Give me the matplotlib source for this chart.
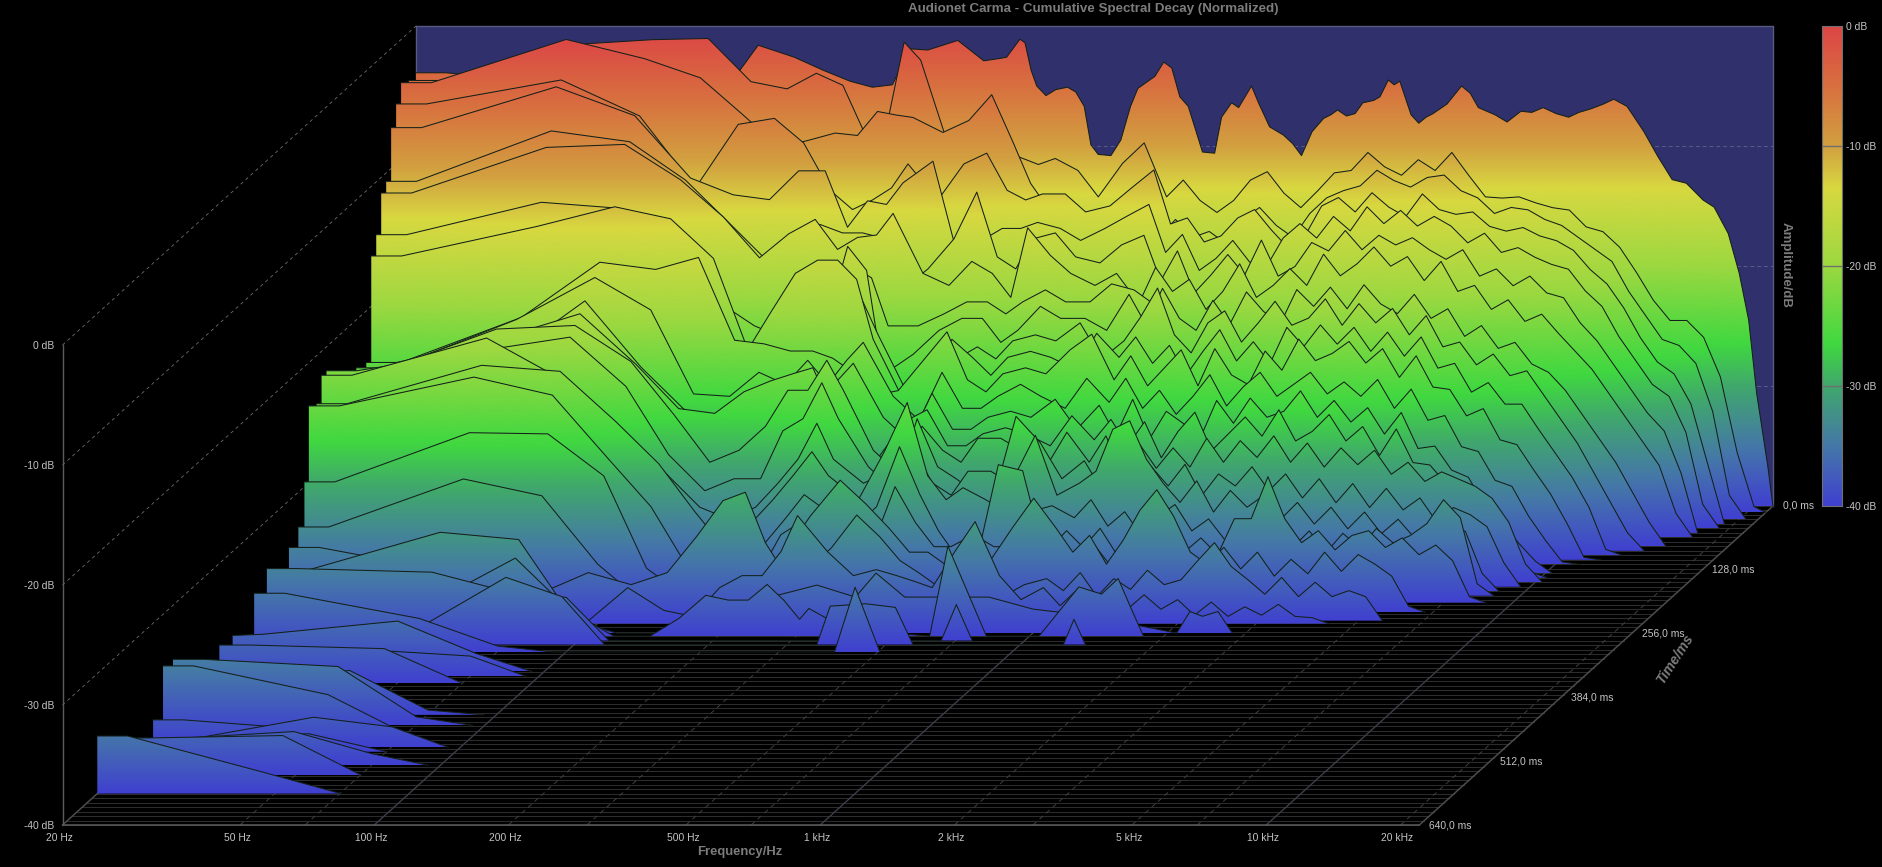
import numpy as np
import matplotlib
matplotlib.use("Agg")
import matplotlib.pyplot as plt
from matplotlib.colors import LinearSegmentedColormap
from matplotlib.patches import Polygon

plt.rcParams['font.family'] = ['Liberation Sans', 'DejaVu Sans']

# shared frequency columns: 10 low bins, 13 mid, 37 high
f_grid = [20, 23.4, 46.9, 70.3, 93.8, 117, 141, 164, 188, 211,
          234, 258, 281, 328, 375, 422, 469, 516, 563, 633, 703, 797, 891,
          1000, 1090, 1189, 1297, 1414, 1542, 1682, 1834, 2000, 2181, 2378, 2594, 2828, 3084, 3364, 3668, 4000,
          4362, 4757, 5187, 5657, 6169, 6727, 7336, 8000, 8724, 9514, 10375, 11314, 12338, 13454, 14672, 16000,
          17448, 19027, 20749, 22050]

# 0 ms slice, read finer because it is the outline against the back wall
t000_f = [20, 23.4, 46.9, 70.3, 93.8, 117, 141, 164, 188, 211, 234, 256, 281, 328, 375, 408, 422, 452, 464, 479, 493, 517,
          544, 578, 603, 630, 652, 677, 723, 761, 800, 831, 907, 950, 990, 1032, 1078, 1160, 1235, 1280, 1348, 1398,
          1494, 1549, 1640, 1763, 1847, 1934, 2043, 2168, 2250, 2330, 2440, 2550, 2655, 2808, 2900, 3028, 3120, 3213,
          3405, 3543, 3680, 3815, 4100, 4419, 4620, 4820, 5253, 5591, 6006, 6350, 6733, 7200, 7680, 8100, 8622, 9200,
          9697, 10384, 11325, 12186, 13107, 14100, 15370, 16280, 17510, 18530, 19456, 20275, 21500, 22050]
t000_db = [-3.9, -3.9, -5, -5.5, -6.5, -1.6, -2.6, -3.7, -4.6, -5.1, -4.9, -1.9, -2.0, -1.2, -2.9, -2.7, -2.6, -1.1, -1.4, -3.7, -5, -5.8,
           -5.3, -5.1, -5.5, -6.7, -9.9, -10.7, -10.8, -9.5, -6.7, -5.2, -4.2, -3, -3.5, -5.9, -6.7, -10.5, -10.6, -7.6, -6.4, -6.8,
           -5, -6.4, -8.4, -9.1, -9.8, -10.8, -8.8, -7.7, -7.4, -7, -7.5, -7.3, -6.4, -6.2, -5.9, -4.5, -4.9, -4.6,
           -7.4, -8.1, -7.6, -7.3, -6.5, -5, -5.6, -6.8, -7.4, -8, -7.1, -7.2, -6.8, -7.3, -7.6, -7.2, -6.9, -6.5,
           -6.1, -6.7, -8.8, -10.9, -12.8, -13.1, -14.5, -15.1, -17.3, -20.6, -24.5, -30.6, -36.8, -40]

s013 = [-4, -4, -1, -0.6, -0.5, -4.1, -4.7, -3.4, -4.4, -8.5,
        -8.4, -0.8, -2.3, -10, -16, -11, -10.4, -11, -10.5, -11.5, -13.7, -10.9, -9.2,
        -13.7, -12.3, -14, -15, -14, -12.3, -11.6, -13.4, -14.6, -13.2, -11.7, -11.5, -10, -11.2, -11.9, -10.6, -11.5,
        -10, -11.9, -13.7, -13.8, -13.7, -14.2, -14.6, -14.8, -16.2, -16.6, -17.9, -20, -22.3, -24, -24, -25.4,
        -28.7, -35, -39.5, -40]
s027 = [-3.6, -3.6, 0, -1.6, -3.2, -6.3, -9, -8.4, -7.8, -8,
        -6, -6.3, -6.5, -7.75, -6.75, -4.6, -8.4, -12, -14, -14.5, -16.5, -15, -14,
        -16.5, -15, -16.5, -16, -17, -15, -14, -15.5, -16.5, -14.5, -13.2, -12.6, -12.2, -10.9, -11.75, -12.3, -11.5,
        -11.3, -12.6, -13.2, -14.5, -14, -14.2, -15, -15.5, -16.5, -17.5, -18.5, -21, -23, -25, -25.5, -27,
        -31, -38, -40, -40]
s036 = [-5, -5, -3, -6, -12, -6.7, -6.2, -8.25, -12.2, -13.8,
        -13, -12, -10, -13, -10, -9.1, -12.2, -13, -12.5, -12.5, -14, -13.5, -12,
        -10.5, -15, -14.5, -16.5, -16, -14.5, -13.8, -15.5, -17, -16, -13.5, -12.8, -14, -12.4, -13.6, -14.4, -12.5,
        -13.8, -14.2, -14, -15.2, -15.6, -15.3, -16, -16.4, -17.2, -18.8, -20, -22, -24.5, -26.5, -27.5, -30,
        -35, -40]
s045 = [-6.6, -6.6, -3.2, -5.6, -10.8, -12.2, -12.6, -10.2, -10.2, -14.9,
        -12.7, -13, -11.2, -9.4, -17.7, -16, -15, -15, -14.5, -15, -16, -15, -14,
        -13, -17, -15.5, -18.5, -17.5, -16, -17.8, -18.2, -15.8, -14.6, -15.8, -14, -15.2, -13.2, -14.6, -13.5, -14.8,
        -14, -14.8, -16.2, -15.4, -17, -16.6, -17.4, -18, -18.4, -20.2, -21.5, -24, -26, -28, -29, -32,
        -38, -40]
s054 = [-10.7, -10.7, -6.5, -7.4, -10.6, -14.1, -17.1, -15, -14.3, -15,
        -15, -15.4, -20, -18, -15.5, -11.6, -17, -18, -15.5, -15, -17, -17.5, -16,
        -15.2, -19, -16.5, -20, -18.5, -16.8, -18.5, -15.6, -18.6, -17.8, -15.8, -16.5, -14.8, -16.4, -15.2, -16, -15.4,
        -16.4, -17.2, -16.4, -18.6, -18, -19.4, -18.6, -20, -20.4, -22.5, -24, -26, -28, -30, -31.5, -35,
        -40]
s063 = [-11.3, -11.3, -7.5, -7.25, -10.2, -13.3, -16.7, -14.7, -13.5, -16,
        -15, -14.8, -13, -18, -19, -17, -18, -20, -14.2, -16.5, -18, -19, -18,
        -20.5, -17.5, -19.5, -18.5, -21, -19.5, -17.2, -20, -19, -17.6, -19, -16.4, -18.2, -17.2, -15.8, -17.4, -16.6,
        -18.6, -17, -19.5, -19, -21, -20.2, -22, -21.4, -23, -24.5, -26, -28, -30, -32, -34, -38,
        -40]
s072 = [-14.4, -14.4, -11.7, -12.2, -17, -20, -22, -23, -20, -18,
        -17, -18, -22, -22, -21, -20, -20, -21, -20, -19, -20, -20, -18.5,
        -19, -20, -24, -30, -36, -40]
s081 = [-15.8, -15.8, -13.35, -11.7, -12.7, -16, -24, -24, -22, -21,
        -15, -17, -25.7, -24, -22, -21, -21, -23, -22, -20, -21, -21, -22,
        -19, -21.5, -18.5, -21, -22, -19.5, -21.5, -18.8, -20.4, -21.5, -18.6, -20, -18.4, -20.2, -18.2, -19.8, -20.6,
        -19, -21, -20.2, -22.5, -21.6, -23.5, -23, -24.8, -25.5, -27, -29, -31, -33, -35.5, -38, -40]
s090 = [-24.3, -24.3, -22, -20, -22, -21, -23, -24, -17.5, -17,
        -18, -19, -22, -27, -26, -24, -23, -24, -22.5, -22, -22.5, -21, -24,
        -22.5, -20.5, -18.1, -22, -23.5, -21, -20, -22.6, -21, -19.2, -21.2, -20.6, -19, -21.2, -19.4, -21, -19.8,
        -22, -20.4, -23, -22.6, -24.5, -23.6, -25.4, -25, -27, -29, -31, -33.5, -36, -38.5, -40]
s099 = [-27, -27, -21, -19, -19, -20, -24, -20, -16.5, -15.4,
        -15.4, -17, -22, -27, -25, -22, -23.5, -25, -23.5, -23, -23.5, -24.5, -21.5,
        -23.5, -21.8, -24, -22.5, -25, -23, -21.2, -23.8, -22.2, -24, -21, -22.6, -20.8, -22.4, -21, -23, -21.4,
        -23.4, -21.8, -24.4, -24, -26.4, -25.6, -27.4, -27.4, -29.5, -31.5, -33.5, -36, -39.5, -40]
s108 = [-24, -24, -19.8, -15.2, -15.8, -14.8, -21.7, -22, -22.6, -22.6,
        -23.2, -24.3, -26.4, -25.9, -23.3, -21, -25, -26, -24.5, -24, -24.5, -22.5, -21.2,
        -25, -23, -25.5, -24, -22.5, -25.5, -22.4, -24.6, -25.4, -22.6, -24.2, -21.6, -23.4, -22.8, -21.8, -23.6, -22.4,
        -24.8, -23, -25.6, -25.8, -28, -27.4, -30, -30.4, -32.5, -34.5, -37, -39.8, -40]
s117 = [-24, -24, -19.6, -16.1, -18.8, -25.8, -26, -24, -25, -23,
        -25, -23, -21.5, -26, -28, -24, -27, -27, -26, -25, -26, -27, -24.5,
        -26.5, -24.5, -27, -25.5, -27.5, -26, -24.2, -26.8, -25.2, -24, -26, -25, -24, -25.8, -24.8, -26, -24.6,
        -27, -25.4, -28, -27.6, -30.2, -30.6, -33, -33.5, -36, -38, -39.8, -40]
s135 = [-26, -26, -22, -17.3, -22.8, -26.3, -28, -25, -27, -24,
        -26, -24, -22.5, -27, -29, -25, -28, -28, -27, -26.5, -27, -25.5, -28,
        -26, -28.5, -25.5, -28.8, -26.5, -27.5, -28.8, -25.6, -27.5, -25.4, -27, -26.5, -24.8, -27, -25.6, -27.4, -26.2,
        -28.4, -26.6, -29.6, -29.4, -31.4, -32, -34.4, -35.8, -37.5, -39, -40]
s144 = [-25, -25, -20, -18, -22.2, -25.9, -26.3, -24.5, -23.6, -23,
        -22.5, -26, -29, -30, -27, -26, -29, -29, -28, -27.5, -28, -29, -26.5,
        -28.5, -26.8, -29, -27, -30, -27.8, -26.2, -29.4, -28, -26.6, -28.2, -26, -28.6, -27.8, -26.4, -28.6, -27.4,
        -29.8, -27.6, -30.4, -30.6, -32.2, -33.6, -35.4, -37, -38.5, -39.5, -40]
s153 = [-23, -23, -18.9, -18.6, -21.6, -26, -30, -29, -27, -24,
        -24, -21.5, -24, -29, -31, -27, -29, -30, -28, -28, -29, -30.5, -27.5,
        -30, -27.8, -31, -28.5, -30.5, -28.8, -30.4, -28, -30, -28.2, -29.6, -27.8, -30, -28.4, -30.4, -28.8, -30.2,
        -29, -31, -30, -31.6, -30.8, -31.4, -32, -33, -35, -38.5, -40]
s162 = [-22, -22, -20.2, -19.2, -23.3, -29, -32, -31, -31, -27,
        -26, -23, -26, -30, -32, -26, -30, -31, -32, -32, -25.8, -28, -31,
        -29.5, -31.8, -29.4, -32, -30, -31.6, -29.8, -32.4, -30.6, -31.6, -30, -32, -30.6, -32.6, -31, -33, -31.4,
        -33.4, -31.8, -33.6, -32.6, -34.6, -33.4, -34, -35, -38, -40]
s171 = [-22, -22, -18.9, -22.5, -27, -30, -33, -34, -33, -31,
        -29, -26, -29, -31, -30, -28, -31, -32, -30, -30, -31, -27, -32,
        -31, -30, -26.5, -25.8, -29, -31, -32.6, -30.8, -33.4, -31.6, -33, -32, -34, -32.6, -34.4, -33, -34.8,
        -33.4, -35.2, -34, -35.6, -34.2, -34.5, -35, -38.5, -40]
s180 = [-24, -24, -20.8, -21.3, -25.5, -29, -33, -36, -34, -32,
        -30, -28, -30, -32, -28, -23.9, -30, -32, -31, -32, -33, -33, -32.5,
        -33.5, -32, -34.2, -33, -35, -33.4, -32.4, -34.6, -33.6, -35.4, -34, -35.8, -34.2, -36, -34.6, -36.4, -34.8,
        -36, -34.4, -35.6, -35, -34, -32, -33.5, -39, -40]
s194 = [-23.6, -23.6, -21.2, -22.7, -28, -32, -37, -38, -37, -35,
        -33, -31, -32, -34, -32, -27, -31, -34, -36, -36, -28.5, -29, -36,
        -34, -35.4, -33.8, -36, -34.4, -35.6, -33.4, -35.8, -34.6, -36, -33, -33, -29.5, -33, -35, -34, -35.6,
        -34.4, -34, -35.4, -34.6, -36, -35.2, -36.5, -39.5, -40]
s202 = [-29.6, -29.6, -25.5, -25.6, -29.1, -36.8, -39, -39, -38, -37,
        -34, -33, -34, -36, -35, -30, -33, -35, -35, -34, -35, -35, -34,
        -35, -36.4, -35, -36.8, -37, -35.4, -36.6, -35.6, -37.2, -37.5, -36.4, -38.5, -37, -38.8, -40]
s213 = [-32.9, -32.9, -28.9, -30.3, -36, -39, -38, -36, -36, -36,
        -36, -34, -32, -29, -31, -33, -35, -35, -36, -35, -36, -33, -30.5,
        -33, -35, -33.6, -36, -34, -31.5, -29.8, -32, -35, -36, -34.6, -36.4, -35, -37, -35.6, -36.8, -35,
        -36.6, -35.2, -36, -37, -39.5, -40]
s230 = [-33.9, -33.9, -36, -38, -36, -37, -36, -33, -30, -29.3,
        -33.5, -36, -36, -34, -31.2, -33, -35, -36, -37, -36, -37.5, -38, -37,
        -36.5, -37.5, -36, -38, -36.5, -37.4, -35.8, -37, -36.6, -35, -33.5, -35.5, -36.6, -37.8, -36.4, -38, -36.8,
        -38, -37.5, -38, -40]
s236 = [-39, -39, -39, -39.5, -40, -37, -38.9, -39.4, -37, -36,
        -36, -34, -31, -34, -36, -35.5, -36, -36.5, -37, -34, -31.5, -36, -38,
        -37, -38.5, -37.2, -38.8, -38, -38.8, -37.6, -38.8, -38, -39.3, -38.2, -39.4, -38.6, -39.3, -38.4, -39.4, -39.5,
        -40]

# later slices only have a few bins left above the floor
s255_f = [20, 23.4, 46.9, 70.3, 93.8, 117, 164, 211, 258, 328, 400, 445, 516, 633, 797, 1000, 1300, 1800, 2100, 2250, 2400, 2600, 2800]
s255 = [-34.8, -34.8, -31.6, -32.2, -39, -40, -40, -38, -37, -36, -37, -35, -37, -37, -37, -38, -38.5, -39.5, -40, -38.2, -38.6, -38.2, -40]
s261_f = [20, 46.9, 70.3, 93.8, 117, 141, 164, 188, 211, 234, 258, 281, 305, 320, 350, 400, 597, 656, 800, 1050, 1290, 1450, 1580, 1680, 1800]
s261 = [-38, -37, -33.5, -38, -40, -40, -38.5, -36.6, -37, -37, -35.7, -37, -38.6, -37.7, -38.5, -39.5, -40, -32.5, -40, -40, -35.9, -36.5, -35.2, -37.5, -40]
s270_f = [20, 23.4, 46.9, 70.3, 93.8, 117, 650, 703, 763]
s270 = [-34, -34, -34.3, -36, -36.4, -40, -40, -37, -40]
s278_f = [20, 46.9, 70.3, 93.8, 117, 350, 375, 450, 525, 575, 1250, 1320, 1400]
s278 = [-40, -38.2, -34.4, -36, -40, -40, -36.8, -36.6, -36.9, -40, -40, -37.9, -40]
s293_f = [20, 23.4, 46.9, 70.3, 93.8, 400, 445, 506]
s293 = [-35.1, -35.1, -37.2, -39.5, -40, -40, -34.6, -40]
s332_f = [20, 23.4, 46.9, 70.3, 93.8]
s332 = [-37, -36.9, -35.8, -38.5, -40]
s342_f = [20, 46.9, 70.3, 93.8]
s342 = [-39.5, -37.9, -38.3, -40]
s356_f = [20, 23.4, 46.9, 70.3]
s356 = [-36.8, -36.8, -37.1, -40]
s419_f = [20, 23.4, 46.9, 70.3, 93.8]
s419 = [-37.5, -37.5, -36.3, -39.6, -40]
s440_f = [20, 23.4, 46.9, 70.3, 93.8]
s440 = [-34.5, -34.5, -35.1, -39.3, -40]
s458_f = [20, 23.4, 46.9, 70.3]
s458 = [-34.3, -34.3, -36.7, -40]
s476_f = [20, 23.4, 46.9, 70.3]
s476 = [-38.05, -38.05, -38.9, -40]
s484_f = [20, 23.4, 46.9, 70.3, 93.8]
s484 = [-39.5, -39.5, -37.5, -38.3, -40]
s493_f = [20, 46.9, 70.3]
s493 = [-39, -38.5, -40]
s520_f = [20, 46.9, 70.3, 93.8]
s520 = [-38, -37.2, -39.05, -40]
s540_f = [20, 23.4, 46.9, 70.3]
s540 = [-36.9, -36.9, -36.7, -40]
s577_f = [20, 23.4, 46.9, 70.3]
s577 = [-35.2, -35.2, -38.2, -40]

slices = [
    (0, t000_f, t000_db), (13, f_grid, s013), (27, f_grid, s027), (36, f_grid, s036), (45, f_grid, s045),
    (54, f_grid, s054), (63, f_grid, s063), (72, f_grid, s072), (81, f_grid, s081), (90, f_grid, s090),
    (99, f_grid, s099), (108, f_grid, s108), (117, f_grid, s117), (135, f_grid, s135), (144, f_grid, s144),
    (153, f_grid, s153), (162, f_grid, s162), (171, f_grid, s171), (180, f_grid, s180), (194, f_grid, s194),
    (202, f_grid, s202), (213, f_grid, s213), (230, f_grid, s230), (236, f_grid, s236), (255, s255_f, s255),
    (261, s261_f, s261), (270, s270_f, s270), (278, s278_f, s278), (293, s293_f, s293), (332, s332_f, s332),
    (342, s342_f, s342), (356, s356_f, s356), (419, s419_f, s419), (440, s440_f, s440), (458, s458_f, s458),
    (476, s476_f, s476), (484, s484_f, s484), (493, s493_f, s493), (520, s520_f, s520), (540, s540_f, s540),
    (577, s577_f, s577),
]

freq_ticks = [20, 50, 100, 200, 500, 1000, 2000, 5000, 10000, 20000]
freq_labels = ['20 Hz', '50 Hz', '100 Hz', '200 Hz', '500 Hz', '1 kHz', '2 kHz', '5 kHz', '10 kHz', '20 kHz']
floor_dashed = [50, 70, 200, 300, 500, 700, 2000, 3000, 5000, 7000, 20000]
floor_solid = [100, 1000, 10000]
db_ticks = [0, -10, -20, -30, -40]
time_ticks = [0, 128, 256, 384, 512, 640]

# colour stops along the amplitude bar
cmap_db = [-40, -35, -30, -26.5, -20, -13.5, -10, -5, 0]
cmap_col = ['#4040D0', '#4578A8', '#40A86C', '#40D840', '#9CD840', '#D8D840', '#D2A040', '#D8703F', '#DC4646']

F_MIN, F_MAX = 20, 22050
T_MAX = 640.0
DX = 353.5 / 446.0   # decades moved over the full time depth
DY = 319.0 / 12.0    # dB moved over the full time depth


def project(freq, db, time):
    depth = 1 - np.asarray(time, dtype=float) / T_MAX
    return np.log10(freq) + depth * DX, np.asarray(db, dtype=float) + depth * DY


fig = plt.figure(figsize=(18.83, 8.67), dpi=100, facecolor='black')
ax = fig.add_axes([0, 0, 1, 1])
ax.set_facecolor('black')
ax.axis('off')
xlim = (np.log10(F_MIN) - 62.5 / 446.0, np.log10(F_MIN) + (1883 - 62.5) / 446.0)
ylim = (-40 - 42 / 12.0, -40 + (867 - 42) / 12.0)

stops = [(d + 40) / 40 for d in cmap_db]
cmap = LinearSegmentedColormap.from_list('csd', list(zip(stops, cmap_col)), N=512)
grad = np.linspace(0, 1, 512)[:, None]

# back wall
bx, by = project([F_MIN, F_MAX], [-40, 0], 0)
ax.fill([bx[0], bx[1], bx[1], bx[0]], [by[0], by[0], by[1], by[1]], color='#30306C', zorder=1, lw=0)
ax.plot([bx[0], bx[1], bx[1]], [by[1], by[1], by[0]], color='#5a5a80', lw=1, zorder=1.1)
ax.plot([bx[0], bx[0]], [by[0], by[1]], color='#5a5a80', lw=1, zorder=1.1)
for d in db_ticks[1:4]:
    x, y = project([F_MIN, F_MAX], [d, d], 0)
    ax.plot(x, y, color='#5a5a85', lw=0.7, ls=(0, (4, 3)), zorder=1.2)

# floor
for tm in np.arange(0, 640.1, 640 / 71):
    x, y = project([F_MIN, F_MAX], [-40, -40], tm)
    ax.plot(x, y, color='#2e2e2e', lw=0.7, zorder=2)
for fv in floor_dashed:
    x, y = project([fv, fv], [-40, -40], [640, 0])
    ax.plot(x, y, color='#3e3e48', lw=0.7, ls=(0, (5, 4)), zorder=2.1)
for fv in floor_solid:
    x, y = project([fv, fv], [-40, -40], [640, 0])
    ax.plot(x, y, color='#3e3e48', lw=1, zorder=2.1)
for fv in (F_MIN, F_MAX):
    x, y = project([fv, fv], [-40, -40], [640, 0])
    ax.plot(x, y, color='#4c4c4c', lw=1.1, zorder=2.2)

# front axis and left wall
x, y = project([F_MIN, F_MAX], [-40, -40], 640)
ax.plot(x, y, color='#5c5c5c', lw=1.1, zorder=2.2)
x, y = project([F_MIN, F_MIN], [-40, 0], 640)
ax.plot(x, y, color='#5c5c5c', lw=1.0, zorder=2.2)
for d in db_ticks[:4]:
    x, y = project([F_MIN, F_MIN], [d, d], [640, 0])
    ax.plot(x, y, color='#6c6c6c', lw=0.6, ls=(0, (4, 4)), zorder=2.1)

# slices back to front
for i, (tm, fv, db) in enumerate(slices):
    db = list(db) + [-40] * (len(fv) - len(db))
    fv = np.array(fv[:len(db)], dtype=float)
    db = np.clip(np.array(db[:len(fv)], dtype=float), -40, 0)
    x, y = project(fv, db, tm)
    x0, y0 = project(fv[0], -40, tm)
    x1, y1 = project(fv[-1], -40, tm)
    poly = Polygon(np.column_stack([np.r_[x0, x, x1], np.r_[y0, y, y1]]), closed=True, transform=ax.transData,
                   fc='none', ec='none')
    ax.add_patch(poly)
    z = 3 + i
    _, top = project(fv[0], 0, tm)
    im = ax.imshow(grad, cmap=cmap, vmin=0, vmax=1, origin='lower', aspect='auto', interpolation='bilinear',
                   extent=(xlim[0], xlim[1], y0, top), zorder=z)
    im.set_clip_path(poly)
    line_y = np.ma.masked_where((db <= -40) & (np.r_[db[1:], -40] <= -40) & (np.r_[-40, db[:-1]] <= -40), y)
    ax.plot(x, line_y, color='#14201a', lw=0.75, zorder=z + 0.5, solid_joinstyle='round')

ax.set_xlim(xlim)
ax.set_ylim(ylim)

tick_col = '#c4c4c4'
label_col = '#7c7c7c'
tick_size = 7.4
for fv, lab in zip(freq_ticks, freq_labels):
    x, y = project(fv, -40, 640)
    ax.annotate(lab, (x, y), xytext=(-3, -13), textcoords='offset pixels', ha='center', va='center',
                color=tick_col, fontsize=tick_size, zorder=200)
for d in db_ticks:
    x, y = project(F_MIN, d, 640)
    ax.annotate(f'{d} dB', (x, y), xytext=(-8, -1), textcoords='offset pixels', ha='right', va='center',
                color=tick_col, fontsize=tick_size, zorder=200)
for tm in time_ticks:
    x, y = project(F_MAX, -40, tm)
    ax.annotate(f'{tm},0 ms', (x, y), xytext=(10, 0), textcoords='offset pixels', ha='left', va='center',
                color=tick_col, fontsize=tick_size, zorder=200)

fig.text(1093 / 1883, 1 - 9 / 867, 'Audionet Carma - Cumulative Spectral Decay (Normalized)', ha='center', va='center',
         color=label_col, fontsize=9.6, fontweight='bold')
fig.text(740 / 1883, 1 - 852 / 867, 'Frequency/Hz', ha='center', va='center', color=label_col, fontsize=9.4, fontweight='bold')
fig.text(1786 / 1883, 1 - 265 / 867, 'Amplitude/dB', ha='center', va='center', rotation=-90, color=label_col,
         fontsize=9.5, fontweight='bold')
fig.text(1675 / 1883, 1 - 659 / 867, 'Time/ms', ha='center', va='center', rotation=57, color=label_col,
         fontsize=10, fontweight='bold', style='italic')

# amplitude bar
bar = fig.add_axes([1822 / 1883, (867 - 506) / 867, 20 / 1883, 480 / 867])
bar.imshow(grad, cmap=cmap, origin='lower', aspect='auto', extent=(0, 1, -40, 0), interpolation='bilinear')
bar.set_xticks([])
bar.set_yticks(db_ticks)
bar.set_yticklabels([f'{d} dB' for d in db_ticks], color=tick_col, fontsize=tick_size)
bar.yaxis.tick_right()
bar.tick_params(axis='y', length=0, pad=3)
for d in db_ticks[1:4]:
    bar.axhline(d, color='#707070', lw=1)
for sp in bar.spines.values():
    sp.set_color('#707070')
    sp.set_linewidth(0.8)

fig.savefig('out.png', dpi=100, facecolor='black')
